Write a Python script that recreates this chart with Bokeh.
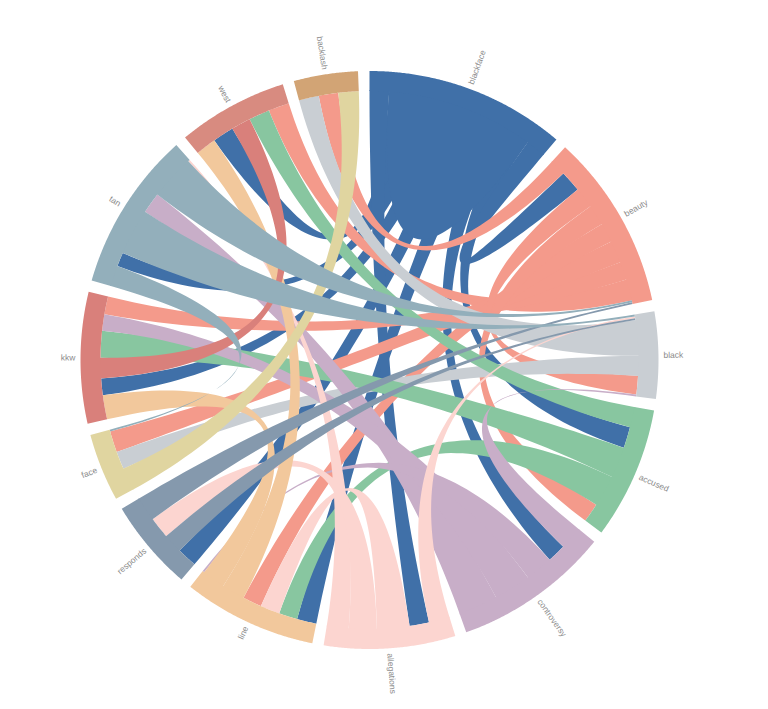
import math
from bokeh.plotting import figure
from bokeh.models import ColumnDataSource
from bokeh.embed import file_html
from bokeh.resources import INLINE
from bokeh.core.properties import value

# ---------------- data ----------------
groups = ["blackface", "beauty", "black", "accused", "controversy", "allegations",
          "line", "responds", "face", "kkw", "tan", "west", "backlash"]

link_source = ["blackface", "blackface", "blackface", "blackface", "blackface", "blackface",
               "blackface", "blackface", "blackface",
               "beauty", "beauty", "beauty", "beauty", "beauty", "beauty", "beauty",
               "black", "black",
               "accused", "accused", "accused",
               "controversy", "controversy", "controversy", "controversy",
               "allegations", "allegations", "allegations", "allegations",
               "line", "line",
               "responds", "responds",
               "face",
               "kkw",
               "tan", "tan", "tan"]
link_target = ["west", "tan", "kkw", "responds", "line", "allegations",
               "controversy", "accused", "beauty",
               "backlash", "west", "kkw", "face", "line", "accused", "black",
               "backlash", "face",
               "west", "kkw", "line",
               "black", "tan", "kkw", "line",
               "black", "tan", "responds", "line",
               "west", "kkw",
               "black", "beauty",
               "backlash",
               "west",
               "face", "black", "beauty"]
# weight at the source end and at the target end of each link
link_source_value = [4.5, 4.5, 4.5, 4.6, 4.6, 4.2, 4.6, 4.5, 4.3,
                     3.5, 4.6, 3.9, 4.8, 4.2, 4.5, 4.5,
                     7.6, 4.3,
                     4.4, 6.7, 6.8,
                     5.0, 8.5, 8.0, 6.0,
                     4.5, 4.7, 6.0, 7.0,
                     5.0, 5.0,
                     4.2, 5.3,
                     4.9,
                     4.4,
                     4.5, 10.0, 9.7]
link_target_value = [4.6, 3.0, 3.6, 4.3, 4.2, 4.2, 4.0, 4.6, 4.6,
                     4.2, 4.5, 3.9, 4.6, 4.1, 4.1, 4.0,
                     4.3, 3.8,
                     4.5, 5.8, 4.0,
                     0.4, 4.5, 3.5, 0.4,
                     0.4, 0.4, 4.6, 4.2,
                     4.4, 5.2,
                     0.4, 0.4,
                     4.4,
                     4.2,
                     0.4, 0.4, 0.4]

# self-loop of a group, spanning the slots of its partners from .. to
self_loop_group = ["blackface"]
self_loop_from = ["west"]
self_loop_to = ["accused"]

# order of partners around each group (clockwise)
partner_order = {
    "blackface": ["allegations", "west", "tan", "kkw", "responds", "line", "controversy", "accused", "beauty"],
    "beauty": ["backlash", "blackface", "black", "accused", "line", "face", "kkw", "west", "tan", "responds"],
    "black": ["tan", "allegations", "responds", "backlash", "face", "beauty", "controversy"],
    "accused": ["west", "blackface", "kkw", "line", "beauty"],
    "controversy": ["black", "blackface", "line", "kkw", "tan"],
    "allegations": ["black", "blackface", "line", "responds", "tan"],
    "line": ["blackface", "accused", "allegations", "beauty", "west", "kkw", "controversy"],
    "responds": ["blackface", "black", "allegations", "beauty"],
    "face": ["backlash", "black", "beauty", "tan"],
    "kkw": ["line", "blackface", "west", "accused", "controversy", "beauty"],
    "tan": ["face", "blackface", "black", "controversy", "beauty", "allegations"],
    "west": ["line", "blackface", "kkw", "accused", "beauty"],
    "backlash": ["black", "beauty", "face"],
}

# ---------------- style ----------------
group_colors = {
    "blackface": "#4070a8", "beauty": "#f49a8b", "black": "#c9ced3", "accused": "#88c6a0",
    "controversy": "#c8aec8", "allegations": "#fcd5d0", "line": "#f2c89c",
    "responds": "#8599ad", "face": "#e0d5a0", "kkw": "#d9807b", "tan": "#93afbb",
    "west": "#d88b80", "backlash": "#d2a475",
}
R_OUT, R_IN, R_LABEL = 289.0, 269.0, 294.0
PAD = math.radians(2.28)

# ---------------- layout ----------------
n_links = len(link_source)
totals = {g: 0.0 for g in groups}
for i in range(n_links):
    totals[link_source[i]] += link_source_value[i]
    totals[link_target[i]] += link_target_value[i]
grand = sum(totals.values())
k = (2 * math.pi - PAD * len(groups)) / grand

group_ang = {}
end_ang = {}
slot_of = {}
x = 0.0
for g in groups:
    g0 = x
    for partner in partner_order[g]:
        for i in range(n_links):
            if link_source[i] == g and link_target[i] == partner:
                w = link_source_value[i]
                end_ang[(i, "src")] = (x, x + w * k)
                slot_of[(g, partner)] = (x, x + w * k)
                x += w * k
                break
            if link_target[i] == g and link_source[i] == partner:
                w = link_target_value[i]
                end_ang[(i, "tgt")] = (x, x + w * k)
                slot_of[(g, partner)] = (x, x + w * k)
                x += w * k
                break
    group_ang[g] = (g0, x)
    x += PAD


def pt(r, a):
    return r * math.sin(a), r * math.cos(a)


def arc_pts(r, a0, a1, n=40):
    m = max(2, int(n * abs(a1 - a0) / 0.2) + 2)
    return [pt(r, a0 + (a1 - a0) * t / (m - 1)) for t in range(m)]


def quad(p0, p2, n=60):
    out = []
    for s in range(1, n):
        t = s / n
        out.append(((1 - t) ** 2 * p0[0] + t * t * p2[0], (1 - t) ** 2 * p0[1] + t * t * p2[1]))
    return out


rib_xs, rib_ys, rib_col = [], [], []
for i in range(n_links):
    sa0, sa1 = end_ang[(i, "src")]
    ta0, ta1 = end_ang[(i, "tgt")]
    rs = R_IN + 1.0
    pts = arc_pts(rs, sa0, sa1)
    pts += quad(pts[-1], pt(R_IN, ta0))
    tp = arc_pts(R_IN, ta0, ta1)
    pts += tp
    pts += quad(tp[-1], pts[0])
    rib_xs.append([p[0] for p in pts])
    rib_ys.append([p[1] for p in pts])
    rib_col.append(group_colors[link_source[i]])

# self loops (teardrops), drawn over the group's own ribbons
for g, a, b in zip(self_loop_group, self_loop_from, self_loop_to):
    a0 = slot_of[(g, a)][0]
    a1 = slot_of[(g, b)][1]
    pts = arc_pts(R_IN + 1.0, a0, a1)
    pts += quad(pts[-1], pts[0])
    rib_xs.append([p[0] for p in pts])
    rib_ys.append([p[1] for p in pts])
    rib_col.append(group_colors[g])

arc_xs, arc_ys, arc_col = [], [], []
lab_x, lab_y, lab_ang, lab_txt, lab_align = [], [], [], [], []
for g in groups:
    a0, a1 = group_ang[g]
    pts = arc_pts(R_OUT, a0, a1) + arc_pts(R_IN, a1, a0)
    arc_xs.append([p[0] for p in pts])
    arc_ys.append([p[1] for p in pts])
    arc_col.append(group_colors[g])
    am = (a0 + a1) / 2
    lx, ly = pt(R_LABEL, am)
    lab_x.append(lx)
    lab_y.append(ly)
    lab_txt.append(g)
    if am < math.pi:
        lab_ang.append(math.pi / 2 - am)
        lab_align.append("left")
    else:
        lab_ang.append(3 * math.pi / 2 - am)
        lab_align.append("right")

# ---------------- figure ----------------
CX, CY = 369, 359.5
FW, FH = 760, 700
p = figure(frame_width=FW, frame_height=FH, output_backend="svg", toolbar_location=None,
           x_range=(-CX, FW - CX), y_range=(CY - FH, CY),
           x_axis_type=None, y_axis_type=None, min_border=0)
p.outline_line_color = None
p.xgrid.visible = False
p.ygrid.visible = False
p.background_fill_color = "white"

p.patches(xs=rib_xs, ys=rib_ys, fill_color=rib_col, line_color=None)
p.patches(xs=arc_xs, ys=arc_ys, fill_color=arc_col, line_color=None)

for al in ("left", "right"):
    idx = [j for j in range(len(groups)) if lab_align[j] == al]
    src = ColumnDataSource(dict(x=[lab_x[j] for j in idx], y=[lab_y[j] for j in idx],
                                a=[lab_ang[j] for j in idx], t=[lab_txt[j] for j in idx]))
    p.text(x="x", y="y", text="t", angle="a", source=src, text_align=al,
           text_baseline="middle", text_font=value("Liberation Sans"),
           text_font_size="8.5px", text_color="#8a8a8a")

open("out.html", "w").write(file_html(p, INLINE))
